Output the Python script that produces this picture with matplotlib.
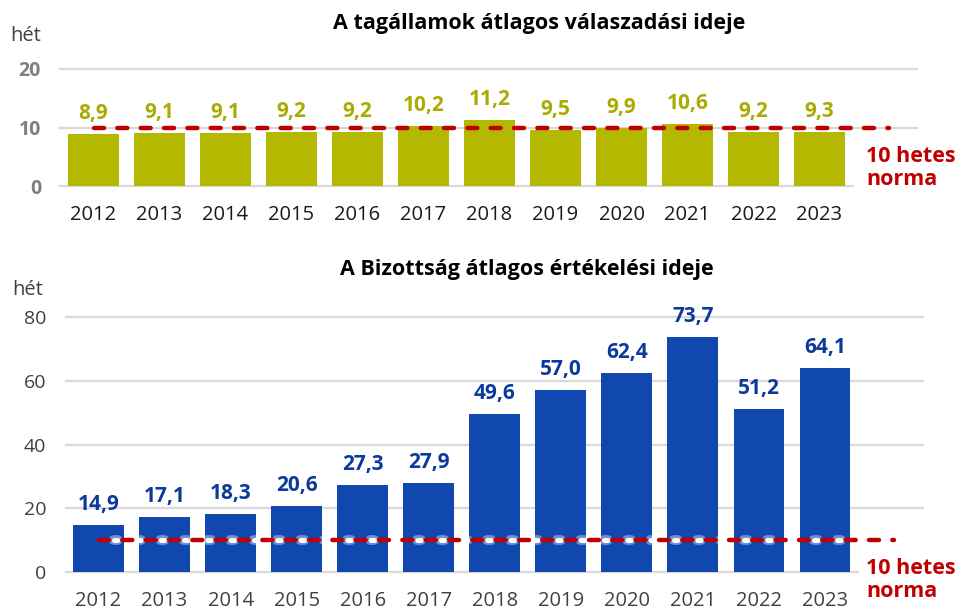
import matplotlib.pyplot as plt

plt.rcParams['font.family'] = ['Open Sans', 'DejaVu Sans']
plt.rcParams['lines.scale_dashes'] = False

years = ['2012', '2013', '2014', '2015', '2016', '2017',
         '2018', '2019', '2020', '2021', '2022', '2023']
member_states = [8.9, 9.1, 9.1, 9.2, 9.2, 10.2, 11.2, 9.5, 9.9, 10.6, 9.2, 9.3]
commission = [14.9, 17.1, 18.3, 20.6, 27.3, 27.9, 49.6, 57.0, 62.4, 73.7, 51.2, 64.1]
norm = 10
top_ticks = [0, 10, 20]
bottom_ticks = [0, 20, 40, 60, 80]

title_top = 'A tagállamok átlagos válaszadási ideje'
title_bottom = 'A Bizottság átlagos értékelési ideje'
unit = 'hét'
norm_label = '10 hetes\nnorma'

OLIVE = '#B5B800'
OLIVE_TXT = '#A9AB00'
BLUE = '#1148AF'
BLUE_TXT = '#0B3A9C'
RED = '#C00000'
GRID = '#D9D9D9'

fig = plt.figure(figsize=(9.58, 6.12), dpi=100)
ax1 = fig.add_axes([60.5 / 958, 426 / 612, 792 / 958, 117 / 612])
ax2 = fig.add_axes([65.5 / 958, 40 / 612, 792.5 / 958, 255 / 612])


def draw_panel(ax, values, color, txt_color, ticks, ymax, bold_y, ycolor, xcolor, xpad):
    x = list(range(len(years)))
    ax.bar(x, values, width=0.77, color=color, zorder=2)
    ax.set_xlim(-0.5, len(years) - 0.5)
    ax.set_ylim(0, ymax)
    for s in ax.spines.values():
        s.set_visible(False)
    # gridlines run past the plot area, the baseline does not
    for t in ticks:
        xend = 1.0 if t == 0 else 1.082
        ax.plot([0, xend], [t, t], transform=ax.get_yaxis_transform(),
                color=GRID, lw=1.6, zorder=1, clip_on=False)
    ax.set_yticks(ticks)
    ax.set_yticklabels([str(t) for t in ticks], fontsize=14,
                       fontweight='bold' if bold_y else 'normal', color=ycolor)
    ax.set_xticks(x)
    ax.set_xticklabels(years, fontsize=14.5, color=xcolor)
    ax.tick_params(axis='y', length=0, pad=14)
    ax.tick_params(axis='x', length=0, pad=xpad)
    for xi, v in zip(x, values):
        ax.annotate(f'{v:.1f}'.replace('.', ','), (xi, v), xytext=(0, 10.8),
                    textcoords='offset points', ha='center', va='baseline',
                    fontsize=15, fontweight='bold', color=txt_color, zorder=5)


draw_panel(ax1, member_states, OLIVE, OLIVE_TXT, top_ticks, 20, True, '#7F7F7F', '#1A1A1A', 13.5)
draw_panel(ax2, commission, BLUE, BLUE_TXT, bottom_ticks, 80, False, '#404040', '#404040', 14)

red_style = dict(color=RED, lw=3.2, dashes=(7.2, 9.6), dash_capstyle='round',
                 zorder=4, clip_on=False)

# 10-week norm line
ax1.plot([0, 12.05], [norm, norm], **red_style)

# white glow in the gaps over the blue bars
ax2.plot([0, 12.05], [norm, norm], color='white', lw=7, alpha=0.4,
         linestyle=(6.3, (3.0, 13.8)), dash_capstyle='round', zorder=3, clip_on=False)
ax2.plot([0, 12.05], [norm, norm], color='white', lw=3.6,
         linestyle=(6.0, (2.4, 14.4)), dash_capstyle='round', zorder=3, clip_on=False)
ax2.plot([0, 12.05], [norm, norm], **red_style)

fig.text(539 / 958, 1 - 24 / 612, title_top, ha='center', va='center',
         fontsize=15.5, fontweight='bold', color='black')
fig.text(527 / 958, 1 - 270 / 612, title_bottom, ha='center', va='center',
         fontsize=15.5, fontweight='bold', color='black')
fig.text(10 / 958, 1 - 36 / 612, unit, ha='left', va='center', fontsize=14.5, color='#404040')
fig.text(12 / 958, 1 - 290 / 612, unit, ha='left', va='center', fontsize=14.5, color='#404040')
fig.text(866 / 958, 1 - 168 / 612, norm_label, ha='left', va='center', fontsize=15.5,
         fontweight='bold', color=RED, linespacing=1.15)
fig.text(866 / 958, 1 - 580 / 612, norm_label, ha='left', va='center', fontsize=15.5,
         fontweight='bold', color=RED, linespacing=1.15)

fig.savefig('out.png', dpi=100)
